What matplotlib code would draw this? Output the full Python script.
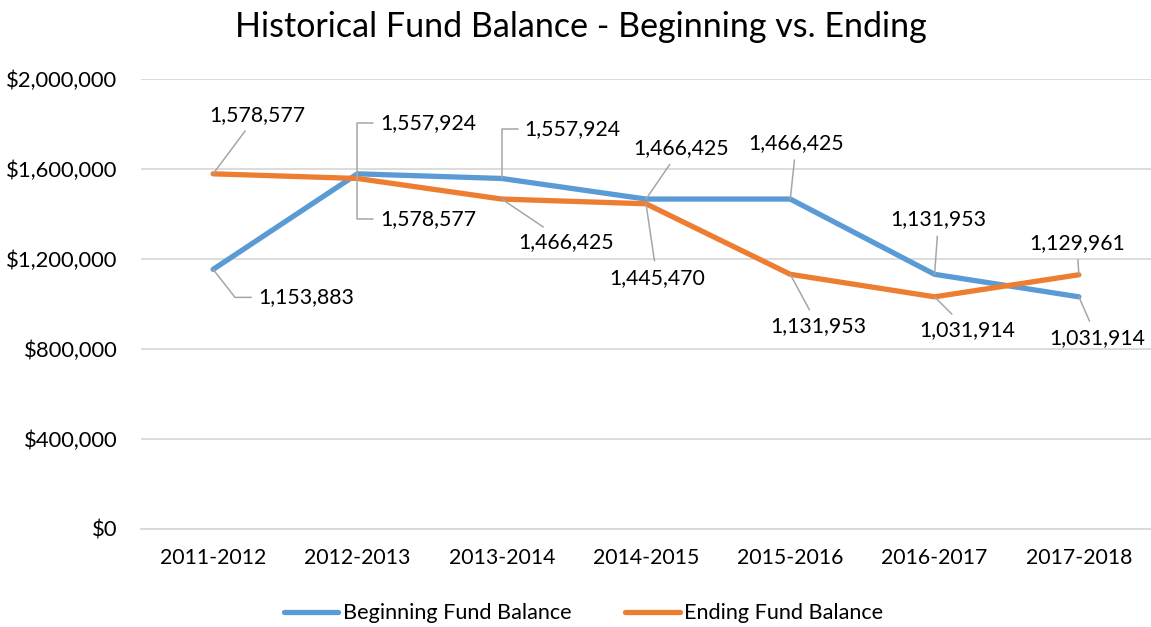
import matplotlib.pyplot as plt
from matplotlib.ticker import FuncFormatter

plt.rcParams['font.family'] = ['Lato', 'DejaVu Sans']

years = ["2011-2012", "2012-2013", "2013-2014", "2014-2015",
         "2015-2016", "2016-2017", "2017-2018"]
beginning = [1153883, 1578577, 1557924, 1466425, 1466425, 1131953, 1031914]
ending = [1578577, 1557924, 1466425, 1445470, 1131953, 1031914, 1129961]

# label offsets in pixels (dx, dy) and leader line bend angle (None = straight)
beg_offsets = [(93, -28, -52), (71, -45, 90), (71, 49, 90), (35, 51, None),
               (6, 56, None), (4, 55, None), (18, -41, None)]
end_offsets = [(44, 59, None), (71, 55, 90), (64, -43, None), (11, -74, None),
               (28, -52, None), (33, -33, None), (-2, 32, None)]

blue = "#5b9bd5"
orange = "#ed7d31"
grey = "#a6a6a6"

fig = plt.figure(figsize=(11.51, 6.27), dpi=100)
ax = fig.add_axes([0.1225, 0.1563, 0.8775, 0.7177])

x = range(len(years))
ax.plot(x, beginning, color=blue, lw=3.8, label="Beginning Fund Balance",
        solid_capstyle="round", solid_joinstyle="round", zorder=3)
ax.plot(x, ending, color=orange, lw=3.8, label="Ending Fund Balance",
        solid_capstyle="round", solid_joinstyle="round", zorder=3)


def label(vals, offsets):
    for i, (v, (dx, dy, bend)) in enumerate(zip(vals, offsets)):
        if bend is None:
            cs = "arc3"
        else:
            cs = f"angle,angleA=0,angleB={bend},rad=0"
        ax.annotate(f"{v:,}", xy=(i, v), xytext=(dx, dy),
                    textcoords="offset pixels", ha="center", va="center",
                    fontsize=15.3, color="#000000", zorder=4,
                    arrowprops=dict(arrowstyle="-", color=grey, lw=1.1,
                                    shrinkA=3, shrinkB=0,
                                    connectionstyle=cs))


label(beginning, beg_offsets)
label(ending, end_offsets)

ax.set_xlim(-0.5, 6.5)
ax.set_ylim(0, 2000000)
ax.set_yticks(range(0, 2000001, 400000))
ax.yaxis.set_major_formatter(FuncFormatter(lambda v, p: f"${v:,.0f}"))
ax.set_xticks(list(x))
ax.set_xticklabels(years)
ax.tick_params(length=0, labelsize=15.3, colors="#000000", pad=14)
ax.tick_params(axis="y", labelsize=15.8, pad=17)
ax.grid(axis="y", color="#d9d9d9", lw=1.3)
ax.set_axisbelow(True)
for s in ["top", "right", "left"]:
    ax.spines[s].set_visible(False)
ax.spines["bottom"].set_color("#d9d9d9")
ax.spines["bottom"].set_linewidth(1.3)

fig.text(0.505, 0.957, "Historical Fund Balance - Beginning vs. Ending",
         ha="center", va="center", fontsize=24.5)

fig.legend(loc="center", bbox_to_anchor=(0.507, 0.022), ncol=2, frameon=False,
           fontsize=15.6, handlelength=2.5, handletextpad=0.2, columnspacing=2.5)

fig.savefig("out.png", dpi=100)
